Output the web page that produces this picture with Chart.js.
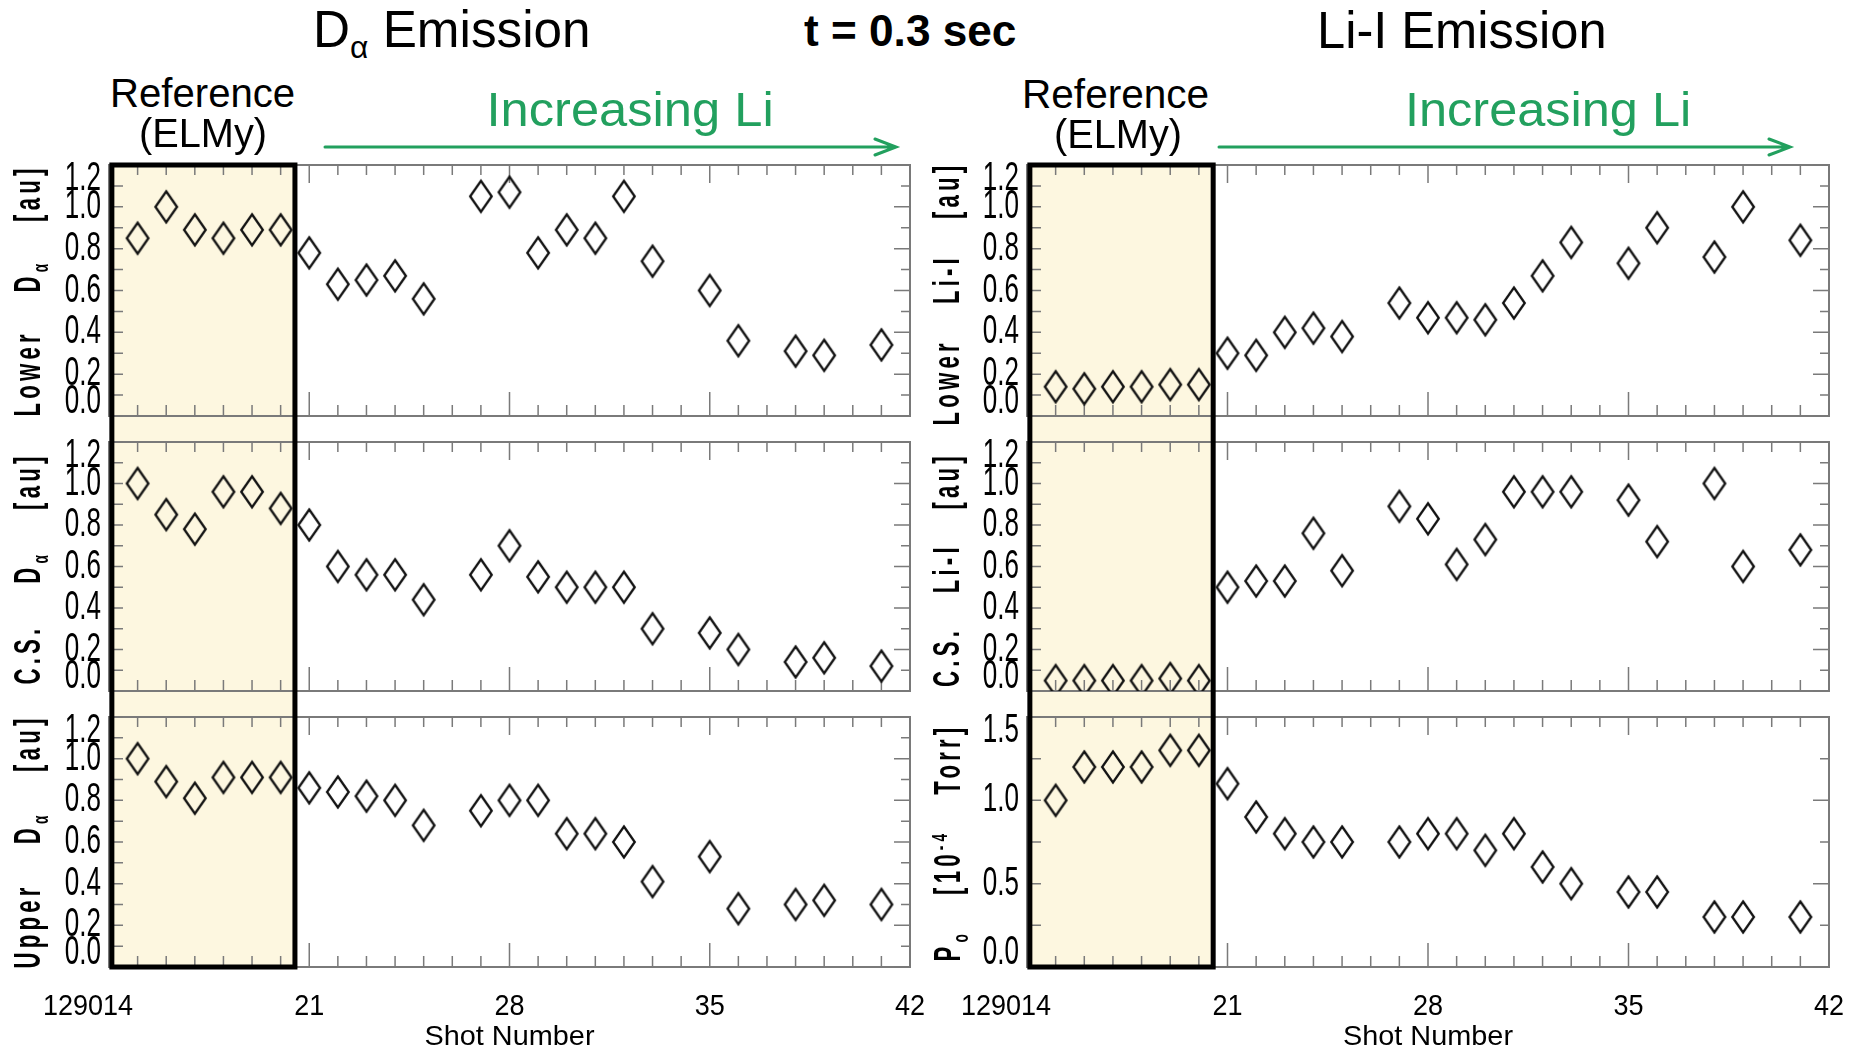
<!DOCTYPE html>
<html>
<head>
<meta charset="utf-8">
<script src="https://cdn.jsdelivr.net/npm/chart.js@4.4.0/dist/chart.umd.min.js"></script>
<style>
  html, body { margin: 0; padding: 0; background: #fff; }
  body { width: 1864px; height: 1051px; position: relative; overflow: hidden; font-family: "Liberation Sans", Arial, sans-serif; color: #000; }
  canvas { position: absolute; }
  .txt { position: absolute; white-space: nowrap; }
  .txt sub { font-size: 0.62em; vertical-align: -0.35em; line-height: 0; }
  .txt sup { font-size: 0.62em; vertical-align: 0.55em; line-height: 0; }
  svg { position: absolute; left: 0; top: 0; }
</style>
</head>
<body>
<svg width="1864" height="200">
  <g stroke="#22a05e" stroke-width="3" fill="none" stroke-linecap="round">
    <path d="M325 147 H896 M875 139 L896 147 L875 155"/>
    <path d="M1219 147 H1790 M1769 139 L1790 147 L1769 155"/>
  </g>
</svg>
<script>
// shot numbers (x) and the six measured series
const shots = [129015, 129016, 129017, 129018, 129019, 129020, 129021, 129022, 129023, 129024, 129025,
  129027, 129028, 129029, 129030, 129031, 129032, 129033, 129035, 129036, 129038, 129039, 129041];
const lowerDalpha = [0.85, 1.00, 0.89, 0.85, 0.89, 0.89, 0.78, 0.63, 0.65, 0.67, 0.56, 1.05, 1.07, 0.78, 0.89, 0.85, 1.05, 0.74, 0.60, 0.36, 0.31, 0.29, 0.34];
const csDalpha = [1.00, 0.85, 0.78, 0.96, 0.96, 0.88, 0.80, 0.60, 0.56, 0.56, 0.44, 0.56, 0.70, 0.55, 0.50, 0.50, 0.50, 0.30, 0.28, 0.20, 0.14, 0.16, 0.12];
const upperDalpha = [1.00, 0.89, 0.81, 0.91, 0.91, 0.91, 0.86, 0.84, 0.82, 0.80, 0.68, 0.75, 0.80, 0.80, 0.64, 0.64, 0.60, 0.41, 0.53, 0.28, 0.30, 0.32, 0.30];
const lowerLiI = [0.14, 0.13, 0.14, 0.14, 0.15, 0.15, 0.30, 0.29, 0.40, 0.42, 0.38, 0.54, 0.47, 0.47, 0.46, 0.54, 0.67, 0.83, 0.73, 0.90, 0.76, 1.00, 0.84];
const csLiI = [0.05, 0.05, 0.05, 0.05, 0.06, 0.05, 0.50, 0.53, 0.53, 0.76, 0.58, 0.89, 0.83, 0.61, 0.73, 0.96, 0.96, 0.96, 0.92, 0.72, 1.00, 0.60, 0.68];
const pressure = [1.00, 1.20, 1.20, 1.20, 1.30, 1.30, 1.10, 0.90, 0.80, 0.75, 0.75, 0.75, 0.80, 0.80, 0.70, 0.80, 0.60, 0.50, 0.45, 0.45, 0.30, 0.30, 0.30];

const refShots = [129014.1, 129020.5];   // reference (ELMy) band
const xTickValues = [129014, 129021, 129028, 129035, 129042];
const xTickLabels = ["129014", "21", "28", "35", "42"];
const yTicksAu = [0, 0.2, 0.4, 0.6, 0.8, 1.0, 1.2];
const yTicksTorr = [0, 0.5, 1.0, 1.5];

const sides = [
  { left: 0, width: 930, padL: 109, padR: 20 },
  { left: 930, width: 934, padL: 97, padR: 35 }
];
const rows = [
  { top: 140, height: 289, padT: 25, padB: 13 },
  { top: 429, height: 275, padT: 13, padB: 13 },
  { top: 704, height: 347, padT: 13, padB: 84 }
];

const panels = [
  { side: 0, row: 0, values: lowerDalpha, ticks: yTicksAu, minor: 0.1 },
  { side: 0, row: 1, values: csDalpha, ticks: yTicksAu, minor: 0.1 },
  { side: 0, row: 2, values: upperDalpha, ticks: yTicksAu, minor: 0.1 },
  { side: 1, row: 0, values: lowerLiI, ticks: yTicksAu, minor: 0.1 },
  { side: 1, row: 1, values: csLiI, ticks: yTicksAu, minor: 0.1 },
  { side: 1, row: 2, values: pressure, ticks: yTicksTorr, minor: 0.25 }
];

const FONT = '"Liberation Sans", Arial, sans-serif';

function makeDiamond() {
  const c = document.createElement("canvas");
  c.width = 28; c.height = 38;
  const g = c.getContext("2d");
  g.strokeStyle = "#111";
  g.lineWidth = 2.3;
  g.beginPath();
  g.moveTo(14, 3.5); g.lineTo(24.8, 19); g.lineTo(14, 34.5); g.lineTo(3.2, 19);
  g.closePath();
  g.stroke();
  return c;
}
const diamond = makeDiamond();

// text squeezed horizontally, like the tall plot lettering of the original
function squeezed(ctx, text, x, y, k) {
  ctx.save();
  ctx.translate(x, y);
  ctx.scale(k, 1);
  ctx.fillText(text, 0, 0);
  ctx.restore();
}

function panelPlugin(p) {
  return {
    id: "panel" + p.side + p.row,
    beforeDatasetsDraw(chart) {
      const { ctx, chartArea: a, scales: { x, y } } = chart;
      const H = chart.height;
      ctx.save();

      // reference band fill
      const bx0 = x.getPixelForValue(refShots[0]);
      const bx1 = x.getPixelForValue(refShots[1]);
      const bTop = p.row === 0 ? a.top : 0;
      const bBot = p.row === 2 ? a.bottom : H;
      ctx.fillStyle = "#fdf7e0";
      ctx.fillRect(bx0, bTop, bx1 - bx0, bBot - bTop);

      // frame
      ctx.strokeStyle = "#7a7a7a";
      ctx.lineWidth = 2;
      ctx.strokeRect(a.left, a.top, a.right - a.left, a.bottom - a.top);

      // inward ticks
      ctx.lineWidth = 1.5;
      ctx.beginPath();
      const x0 = xTickValues[0], x1 = xTickValues[xTickValues.length - 1];
      for (let s = x0; s <= x1; s++) {
        const px = x.getPixelForValue(s);
        const major = xTickValues.includes(s);
        ctx.moveTo(px, a.bottom); ctx.lineTo(px, a.bottom - (major ? 24 : 11));
        ctx.moveTo(px, a.top); ctx.lineTo(px, a.top + (major ? 18 : 10));
      }
      const yMin = p.ticks[0], yMax = p.ticks[p.ticks.length - 1];
      const n = Math.round((yMax - yMin) / p.minor);
      for (let i = 0; i <= n; i++) {
        const v = yMin + i * p.minor;
        const py = y.getPixelForValue(v);
        const major = p.ticks.some(t => Math.abs(t - v) < 1e-6);
        ctx.moveTo(a.right, py); ctx.lineTo(a.right - (major ? 16 : 9), py);
        ctx.moveTo(a.left, py); ctx.lineTo(a.left + 14, py);
      }
      ctx.stroke();

      // y tick labels, end labels pulled inside the axis
      ctx.fillStyle = "#000";
      ctx.font = "40px " + FONT;
      ctx.textAlign = "right";
      ctx.textBaseline = "middle";
      p.ticks.forEach((t, i) => {
        let py = y.getPixelForValue(t);
        if (i === 0) py -= 14;
        if (i === p.ticks.length - 1) py += 14;
        squeezed(ctx, t.toFixed(1), a.left - 8, py, 0.65);
      });

      if (p.row === 2) {
        ctx.font = "30px " + FONT;
        xTickValues.forEach((v, i) => {
          const px = x.getPixelForValue(v);
          if (i === 0) {
            ctx.textAlign = "right";
            squeezed(ctx, xTickLabels[i], px + 24, a.bottom + 40, 0.9);
          } else {
            ctx.textAlign = "center";
            squeezed(ctx, xTickLabels[i], px, a.bottom + 40, 0.9);
          }
        });
        ctx.font = "28px " + FONT;
        ctx.textAlign = "center";
        const k = 170 / ctx.measureText("Shot Number").width;
        squeezed(ctx, "Shot Number", (a.left + a.right) / 2, a.bottom + 70, k);
      }

      // black outline of the reference band
      ctx.strokeStyle = "#000";
      ctx.lineWidth = 5;
      ctx.lineJoin = "miter";
      ctx.beginPath();
      if (p.row === 0) {
        ctx.moveTo(bx0, H); ctx.lineTo(bx0, a.top); ctx.lineTo(bx1, a.top); ctx.lineTo(bx1, H);
      } else if (p.row === 1) {
        ctx.moveTo(bx0, 0); ctx.lineTo(bx0, H);
        ctx.moveTo(bx1, 0); ctx.lineTo(bx1, H);
      } else {
        ctx.moveTo(bx0, 0); ctx.lineTo(bx0, a.bottom); ctx.lineTo(bx1, a.bottom); ctx.lineTo(bx1, 0);
      }
      ctx.stroke();
      ctx.restore();
    }
  };
}

function makePanel(p) {
  const s = sides[p.side], r = rows[p.row];
  const cv = document.createElement("canvas");
  cv.width = s.width; cv.height = r.height;
  cv.style.left = s.left + "px"; cv.style.top = r.top + "px";
  cv.style.width = s.width + "px"; cv.style.height = r.height + "px";
  document.body.appendChild(cv);
  new Chart(cv, {
    type: "scatter",
    data: {
      datasets: [{
        data: shots.map((x, i) => ({ x, y: p.values[i] })),
        pointStyle: diamond,
        pointRadius: 12,
        pointHoverRadius: 12
      }]
    },
    options: {
      responsive: false,
      animation: false,
      devicePixelRatio: 1,
      layout: { padding: { left: s.padL, right: s.padR, top: r.padT, bottom: r.padB } },
      scales: {
        x: { type: "linear", display: false, min: xTickValues[0], max: xTickValues[xTickValues.length - 1] },
        y: { type: "linear", display: false, min: p.ticks[0], max: p.ticks[p.ticks.length - 1] }
      },
      plugins: { legend: { display: false }, tooltip: { enabled: false } }
    },
    plugins: [panelPlugin(p)]
  });
}
panels.forEach(makePanel);

// horizontal text, fitted to a measured width
function addText(html, cx, capTop, size, width, opts = {}) {
  const el = document.createElement("div");
  el.className = "txt";
  el.innerHTML = html;
  el.style.fontSize = size + "px";
  el.style.lineHeight = size + "px";
  if (opts.bold) el.style.fontWeight = "bold";
  if (opts.color) el.style.color = opts.color;
  document.body.appendChild(el);
  const w = el.offsetWidth;
  el.style.left = (cx - w / 2) + "px";
  el.style.top = (capTop - 0.13 * size) + "px";
  el.style.transformOrigin = "center top";
  el.style.transform = "scaleX(" + (width / w) + ")";
}

// rotated axis title: squeezed glyphs, spaced out to a measured length
function addVTitle(html, cx, cy, size, length, k) {
  const el = document.createElement("div");
  el.className = "txt";
  el.innerHTML = html;
  el.style.fontSize = size + "px";
  el.style.lineHeight = size + "px";
  el.style.fontWeight = "bold";
  el.style.letterSpacing = "7px";
  document.body.appendChild(el);
  const w0 = el.offsetWidth;
  const gaps = (el.textContent.match(/ /g) || []).length;
  el.style.wordSpacing = Math.max(0, (length / k - w0) / gaps) + "px";
  const w = el.offsetWidth, h = el.offsetHeight;
  el.style.left = (cx - w / 2) + "px";
  el.style.top = (cy - h / 2) + "px";
  el.style.transformOrigin = "center center";
  el.style.transform = "rotate(-90deg) scaleX(" + k + ")";
}

addText("D<sub>&alpha;</sub> Emission", 452, 10, 52, 278);
addText("t = 0.3 sec", 910, 14, 45, 212, { bold: true });
addText("Li-I Emission", 1462, 11, 52, 290);
addText("Reference", 202, 78, 41, 185);
addText("(ELMy)", 203, 118, 41, 128);
addText("Reference", 1115, 79, 41, 187);
addText("(ELMy)", 1118, 119, 41, 128);
addText("Increasing Li", 630, 92, 48, 287, { color: "#22a05e" });
addText("Increasing Li", 1548, 92, 48, 286, { color: "#22a05e" });

addVTitle("Lower D<sub>&alpha;</sub> [au]", 27, 290, 37, 252, 0.6);
addVTitle("C.S. D<sub>&alpha;</sub> [au]", 27, 568, 37, 232, 0.6);
addVTitle("Upper D<sub>&alpha;</sub> [au]", 27, 841, 37, 254, 0.6);
addVTitle("Lower Li-I [au]", 947, 293, 37, 264, 0.6);
addVTitle("C.S. Li-I [au]", 947, 569, 37, 235, 0.6);
addVTitle("P<sub>o</sub> [10<sup>-4</sup> Torr]", 947, 842, 37, 238, 0.6);
</script>
</body>
</html>
